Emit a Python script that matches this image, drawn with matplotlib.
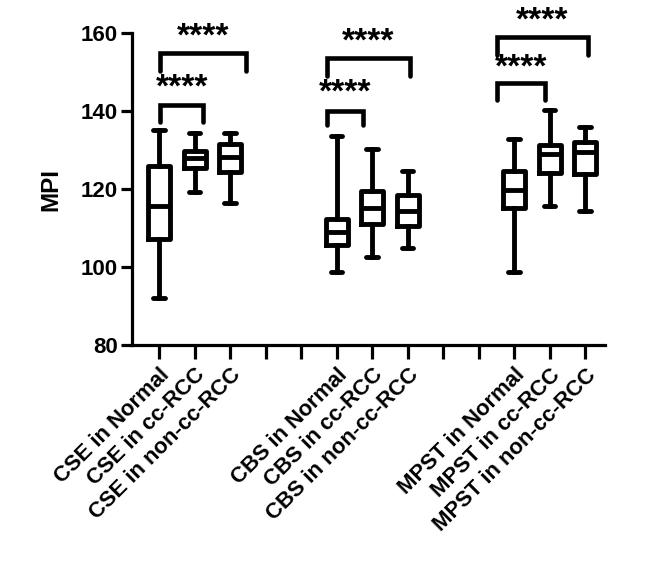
import matplotlib.pyplot as plt

plt.rcParams['font.family'] = ['Liberation Sans', 'DejaVu Sans']
plt.rcParams['font.weight'] = 'bold'

# ============== data ==============
labels = ['CSE in Normal', 'CSE in cc-RCC', 'CSE in non-cc-RCC',
          'CBS in Normal', 'CBS in cc-RCC', 'CBS in non-cc-RCC',
          'MPST in Normal', 'MPST in cc-RCC', 'MPST in non-cc-RCC']
slots = [0, 1, 2, 5, 6, 7, 10, 11, 12]   # empty slots 3,4,8,9 between groups
nSlots = 13

whiskLow = [92.0, 119.3, 116.4, 98.7, 102.7, 105.0, 98.8, 115.8, 114.5]
q1 = [107.2, 125.4, 124.3, 105.7, 111.1, 110.6, 115.1, 124.1, 123.9]
median = [115.8, 127.9, 128.2, 108.9, 115.1, 114.5, 119.8, 129.0, 129.5]
q3 = [126.0, 129.9, 131.6, 112.3, 119.6, 118.5, 124.7, 131.3, 132.2]
whiskHigh = [135.2, 134.5, 134.3, 133.7, 130.3, 124.7, 132.9, 140.3, 135.9]

# significance brackets: start slot, end slot, bar level, leg end, star level
bracketStart = [0.03, 0.03, 4.72, 4.72, 9.51, 9.51]
bracketEnd = [1.25, 2.45, 5.75, 7.07, 10.87, 12.09]
bracketTop = [141.6, 154.9, 140.1, 153.6, 147.2, 159.1]
bracketLeg = [137.3, 150.4, 136.5, 149.1, 142.9, 154.4]
starLevel = [146.0, 159.0, 144.7, 157.7, 151.1, 163.1]
starText = '****'
# ==========================================================

fig = plt.figure(figsize=(6.57, 5.62), dpi=100)
ax = fig.add_axes([0.2005, 0.3861, 0.7204, 0.5546])

stats = []
for i in range(len(labels)):
    stats.append({'whislo': whiskLow[i], 'q1': q1[i], 'med': median[i],
                  'q3': q3[i], 'whishi': whiskHigh[i], 'label': labels[i]})

lw = 3.5
ax.bxp(stats, positions=slots, widths=0.62, capwidths=0.32, showfliers=False,
       boxprops=dict(color='black', linewidth=lw),
       whiskerprops=dict(color='black', linewidth=lw),
       capprops=dict(color='black', linewidth=lw, solid_capstyle='round'),
       medianprops=dict(color='black', linewidth=lw))

for x0, x1, top, leg, sy in zip(bracketStart, bracketEnd, bracketTop, bracketLeg, starLevel):
    ax.plot([x0, x0, x1, x1], [leg, top, top, leg], color='black', linewidth=3.3,
            solid_capstyle='round', solid_joinstyle='miter', clip_on=False)
    ax.text((x0 + x1) / 2, sy, starText, ha='center', va='center',
            fontsize=24, fontweight='bold', clip_on=False)

ax.set_xlim(-0.77, 12.56)
ax.set_ylim(80, 160)
ax.set_yticks([80, 100, 120, 140, 160])
ax.set_xticks(range(nSlots))
tickNames = [''] * nSlots
for s, name in zip(slots, labels):
    tickNames[s] = name
ax.set_xticklabels(tickNames, rotation=45, ha='right', va='top',
                   rotation_mode='anchor', fontsize=15.8, fontweight='bold')
for t in ax.get_yticklabels():
    t.set_fontsize(16)
    t.set_fontweight('bold')

ax.set_ylabel('MPI', fontsize=17.5, fontweight='bold', labelpad=13)

for side in ['top', 'right']:
    ax.spines[side].set_visible(False)
for side in ['left', 'bottom']:
    ax.spines[side].set_linewidth(2.3)
ax.tick_params(axis='y', length=8, width=2.3, pad=2)
ax.tick_params(axis='x', length=10, width=2.3, pad=4)

fig.savefig('out.png', dpi=100)
